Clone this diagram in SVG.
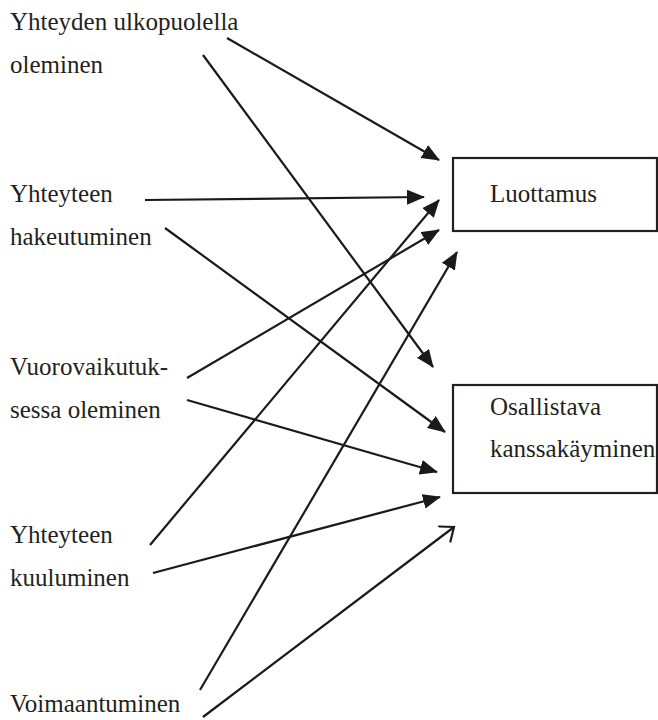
<svg xmlns="http://www.w3.org/2000/svg" width="658" height="720" viewBox="0 0 658 720">
  <style>
    .lbl { font-family: 'Liberation Serif', 'DejaVu Serif', 'Times New Roman', serif; font-size: 25px; fill: #231f20; }
    .box { fill: #ffffff; stroke: #231f20; stroke-width: 2.2; }
    .edge { stroke: #1a1a1a; stroke-width: 2.2; fill: none; }
  </style>
  <defs>
    <marker id="head" markerUnits="userSpaceOnUse" markerWidth="20" markerHeight="16" refX="17" refY="7.5" orient="auto">
      <path d="M0,0 L18,7.5 L0,15 z" fill="#1a1a1a"/>
    </marker>
    <marker id="open" markerUnits="userSpaceOnUse" markerWidth="16" markerHeight="24" refX="12.4" refY="11" orient="auto">
      <path d="M0,1 L12.4,11 L0,21" fill="none" stroke="#1a1a1a" stroke-width="2.2"/>
    </marker>
  </defs>

  <rect width="658" height="720" fill="#ffffff"/>

  <!-- source concepts -->
  <g id="n-ulkopuolella" font-family="Liberation Serif, serif">
    <text class="lbl" x="10" y="30">Yhteyden ulkopuolella</text>
    <text class="lbl" x="10" y="73">oleminen</text>
  </g>
  <g id="n-hakeutuminen">
    <text class="lbl" x="10" y="202">Yhteyteen</text>
    <text class="lbl" x="10" y="245">hakeutuminen</text>
  </g>
  <g id="n-vuorovaikutus">
    <text class="lbl" x="10" y="375">Vuorovaikutuk-</text>
    <text class="lbl" x="10" y="418">sessa oleminen</text>
  </g>
  <g id="n-kuuluminen">
    <text class="lbl" x="10" y="543">Yhteyteen</text>
    <text class="lbl" x="10" y="586">kuuluminen</text>
  </g>
  <g id="n-voimaantuminen">
    <text class="lbl" x="10" y="712">Voimaantuminen</text>
  </g>

  <!-- outcomes -->
  <g id="n-luottamus">
    <rect class="box" x="453" y="158" width="204" height="73"/>
    <text class="lbl" x="490" y="202">Luottamus</text>
  </g>
  <g id="n-kanssakayminen">
    <rect class="box" x="453" y="385" width="204" height="108"/>
    <text class="lbl" x="490" y="415">Osallistava</text>
    <text class="lbl" x="490" y="457">kanssakäyminen</text>
  </g>

  <!-- connectors -->
  <g id="connectors">
    <line class="edge" x1="227" y1="38" x2="439" y2="160" marker-end="url(#head)"/>
    <line class="edge" x1="203" y1="55" x2="433" y2="367" marker-end="url(#head)"/>
    <line class="edge" x1="145" y1="200" x2="424" y2="197" marker-end="url(#head)"/>
    <line class="edge" x1="165" y1="228" x2="445" y2="432" marker-end="url(#head)"/>
    <line class="edge" x1="187" y1="378" x2="439" y2="230" marker-end="url(#head)"/>
    <line class="edge" x1="187" y1="400" x2="437" y2="472" marker-end="url(#head)"/>
    <line class="edge" x1="150" y1="545" x2="439" y2="200" marker-end="url(#head)"/>
    <line class="edge" x1="153" y1="573" x2="440" y2="497" marker-end="url(#head)"/>
    <line class="edge" x1="200" y1="690" x2="457" y2="252" marker-end="url(#head)"/>
    <line class="edge" x1="203" y1="717" x2="454" y2="527" marker-end="url(#open)"/>
  </g>
</svg>
